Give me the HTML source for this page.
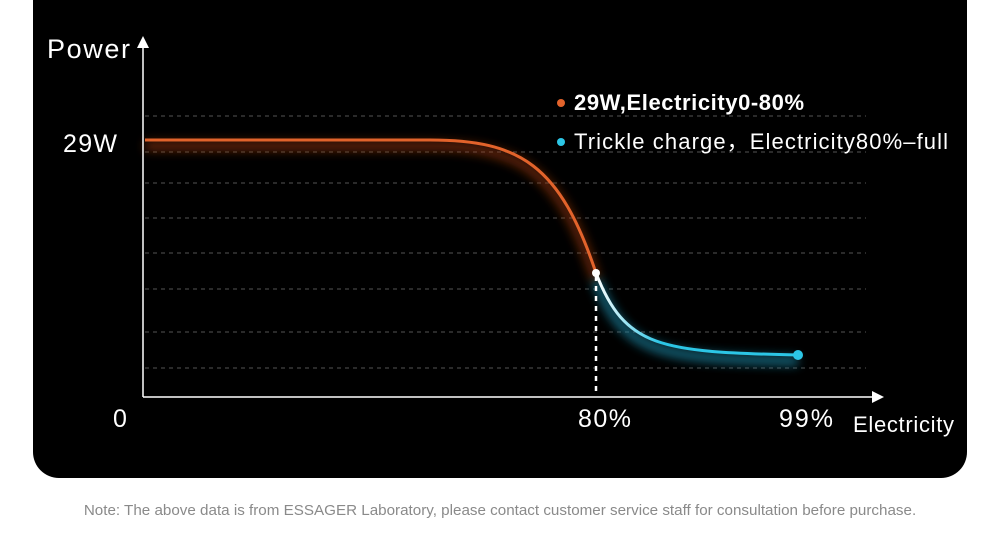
<!DOCTYPE html>
<html><head><style>
html,body{margin:0;padding:0;background:#fff;width:1000px;height:546px;overflow:hidden;font-family:"Liberation Sans",sans-serif}
.panel{position:absolute;left:33px;top:0;width:934px;height:478px;background:#000;border-radius:0 0 26px 26px}
.note{position:absolute;top:502px;left:0;width:1000px;text-align:center;font-size:15.2px;color:#8a8a8a;white-space:nowrap}
</style></head><body>
<div class="panel"></div>
<svg width="1000" height="546" style="position:absolute;left:0;top:0">
<defs>
<linearGradient id="g" x1="596" y1="0" x2="660" y2="0" gradientUnits="userSpaceOnUse">
<stop offset="0" stop-color="#fff"/><stop offset="1" stop-color="#2cc6e6"/></linearGradient>
<filter id="bl" x="-20%" y="-50%" width="140%" height="200%"><feGaussianBlur stdDeviation="5"/></filter>
</defs>
<g stroke="#555" stroke-width="1" stroke-dasharray="4,4">
<line x1="145" x2="866" y1="116" y2="116"/><line x1="145" x2="866" y1="152" y2="152"/>
<line x1="145" x2="866" y1="183" y2="183"/><line x1="145" x2="866" y1="218" y2="218"/>
<line x1="145" x2="866" y1="253" y2="253"/><line x1="145" x2="866" y1="289" y2="289"/>
<line x1="145" x2="866" y1="332" y2="332"/><line x1="145" x2="866" y1="368" y2="368"/>
</g>
<path d="M145 146 L430 146 C520 146 560 170 596 280" stroke="#a03a10" stroke-width="10" fill="none" opacity="0.6" filter="url(#bl)"/>
<path d="M596 280 C625 355 660 358 798 361" stroke="#1a8aa8" stroke-width="10" fill="none" opacity="0.7" filter="url(#bl)"/>
<path d="M145 140 L430 140 C520 140 560 165 596 273" stroke="#e2632b" stroke-width="3" fill="none"/>
<path d="M596 273 C625 348 660 352 798 355" stroke="url(#g)" stroke-width="3" fill="none"/>
<line x1="596" y1="276" x2="596" y2="396" stroke="#fff" stroke-width="2.5" stroke-dasharray="5,5"/>
<circle cx="596" cy="273" r="4" fill="#fff"/>
<circle cx="798" cy="355" r="5" fill="#2cc6e6"/>
<line x1="143" y1="45" x2="143" y2="397" stroke="#fff" stroke-width="1.5"/>
<polygon points="143,36 137,48 149,48" fill="#fff"/>
<line x1="143" y1="397" x2="874" y2="397" stroke="#fff" stroke-width="1.5"/>
<polygon points="884,397 872,391 872,403" fill="#fff"/>
<g fill="#fff" font-family="Liberation Sans, 'Noto Sans CJK SC', sans-serif">
<text x="47" y="58" font-size="27" textLength="83">Power</text>
<text x="63" y="152" font-size="25" textLength="54">29W</text>
<text x="113" y="427" font-size="25">0</text>
<text x="578" y="427" font-size="25" textLength="53">80%</text>
<text x="779" y="427" font-size="25" textLength="54">99%</text>
<text x="853" y="432" font-size="22" textLength="101">Electricity</text>
<text x="574" y="110" font-size="22" font-weight="bold" textLength="230">29W,Electricity0-80%</text>
<text x="574" y="149" font-size="22" textLength="374">Trickle charge，Electricity80%–full</text>
</g>
<circle cx="561" cy="103" r="4" fill="#e2632b"/>
<circle cx="561" cy="142" r="4" fill="#2cc6e6"/>
</svg>
<div class="note">Note: The above data is from ESSAGER Laboratory, please contact customer service staff for consultation before purchase.</div>
</body></html>
